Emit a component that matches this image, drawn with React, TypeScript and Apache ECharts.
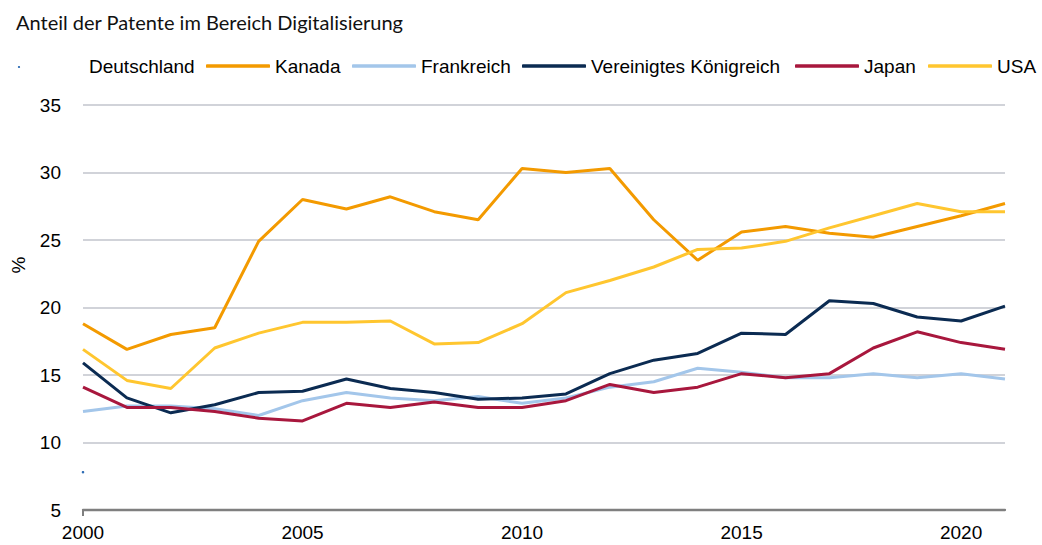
import React, { useEffect, useRef } from "react";
import * as echarts from "echarts";

const years = ["2000","2001","2002","2003","2004","2005","2006","2007","2008","2009","2010","2011","2012","2013","2014","2015","2016","2017","2018","2019","2020","2021"];
const deutschland: (number | null)[] = [7.8, null, null, null, null, null, null, null, null, null, null, null, null, null, null, null, null, null, null, null, null, null];
const kanada = [18.8, 16.9, 18.0, 18.5, 24.9, 28.0, 27.3, 28.2, 27.1, 26.5, 30.3, 30.0, 30.3, 26.5, 23.5, 25.6, 26.0, 25.5, 25.2, 26.0, 26.8, 27.7];
const frankreich = [12.3, 12.7, 12.7, 12.5, 12.0, 13.1, 13.7, 13.3, 13.1, 13.4, 12.9, 13.3, 14.1, 14.5, 15.5, 15.2, 14.8, 14.8, 15.1, 14.8, 15.1, 14.7];
const vereinigtesKoenigreich = [15.9, 13.3, 12.2, 12.8, 13.7, 13.8, 14.7, 14.0, 13.7, 13.2, 13.3, 13.6, 15.1, 16.1, 16.6, 18.1, 18.0, 20.5, 20.3, 19.3, 19.0, 20.1];
const japan = [14.1, 12.6, 12.6, 12.3, 11.8, 11.6, 12.9, 12.6, 13.0, 12.6, 12.6, 13.1, 14.3, 13.7, 14.1, 15.1, 14.8, 15.1, 17.0, 18.2, 17.4, 16.9];
const usa = [16.9, 14.6, 14.0, 17.0, 18.1, 18.9, 18.9, 19.0, 17.3, 17.4, 18.8, 21.1, 22.0, 23.0, 24.3, 24.4, 24.9, 25.9, 26.8, 27.7, 27.1, 27.1];

const seriesNames = ["Deutschland", "Kanada", "Frankreich", "Vereinigtes Königreich", "Japan", "USA"];
const seriesColors = ["#2f6db5", "#f39a00", "#a3c6ea", "#0b2b52", "#a8173d", "#ffc62f"];
const seriesData = [deutschland, kanada, frankreich, vereinigtesKoenigreich, japan, usa];
const legendLefts = [20, 206, 352, 522, 795, 928];

const FONT = "'Liberation Sans', Arial, sans-serif";

export default function App() {
  const ref = useRef<HTMLDivElement>(null);
  useEffect(() => {
    document.body.style.margin = "0";
    if (!ref.current) return;
    const chart = echarts.init(ref.current, null, { renderer: "svg" });
    const legends = seriesNames.map((name, i) => ({
      left: legendLefts[i],
      top: 56,
      padding: 0,
      itemWidth: 64,
      itemHeight: 3.5,
      itemGap: 0,
      selectedMode: false,
      data: [
        {
          name,
          icon: "roundRect",
          itemStyle: { color: i === 0 ? "rgba(0,0,0,0)" : seriesColors[i] },
        },
      ],
      textStyle: { fontFamily: FONT, fontSize: 19, color: "#000", lineHeight: 20 },
    }));
    chart.setOption({
      animation: false,
      title: {
        text: "Anteil der Patente im Bereich Digitalisierung",
        left: 16,
        top: 12,
        padding: 0,
        textStyle: { fontFamily: "Lato, 'Open Sans', sans-serif", fontSize: 20, fontWeight: "normal", color: "#111" },
      },
      legend: legends,
      grid: { left: 83, right: 37, top: 105, bottom: 35, containLabel: false },
      xAxis: {
        type: "category",
        data: years,
        boundaryGap: false,
        axisLine: { lineStyle: { color: "#7f7f7f", width: 2.3 } },
        axisTick: { show: true, interval: (idx: number) => idx === 0, length: 6, lineStyle: { color: "#7f7f7f", width: 2 } },
        axisLabel: { interval: 4, fontFamily: FONT, fontSize: 19, color: "#000", margin: 13 },
        splitLine: { show: false },
      },
      yAxis: {
        type: "value",
        min: 5,
        max: 35,
        interval: 5,
        axisLine: { show: false },
        axisTick: { show: false },
        axisLabel: { fontFamily: FONT, fontSize: 19, color: "#000", margin: 22 },
        splitLine: { lineStyle: { color: "#c2c5cd", width: 1.6 } },
      },
      graphic: [
        {
          type: "text",
          x: 18,
          y: 265,
          rotation: Math.PI / 2,
          style: { text: "%", fontFamily: FONT, fontSize: 19, fill: "#000", align: "center", verticalAlign: "middle" },
        },
        { type: "circle", shape: { cx: 19, cy: 67, r: 1.1 }, style: { fill: "#2f6db5" } },
      ],
      series: seriesNames.map((name, i) => ({
        name,
        type: "line",
        data: seriesData[i],
        symbol: i === 0 ? "circle" : "none",
        symbolSize: i === 0 ? 2.5 : 0,
        showSymbol: i === 0,
        itemStyle: { color: seriesColors[i] },
        lineStyle: { color: seriesColors[i], width: i === 0 ? 0 : 3 },
        connectNulls: false,
        z: 2 + i,
      })),
    });
    return () => chart.dispose();
  }, []);
  return <div ref={ref} style={{ width: 1042, height: 545 }} />;
}
